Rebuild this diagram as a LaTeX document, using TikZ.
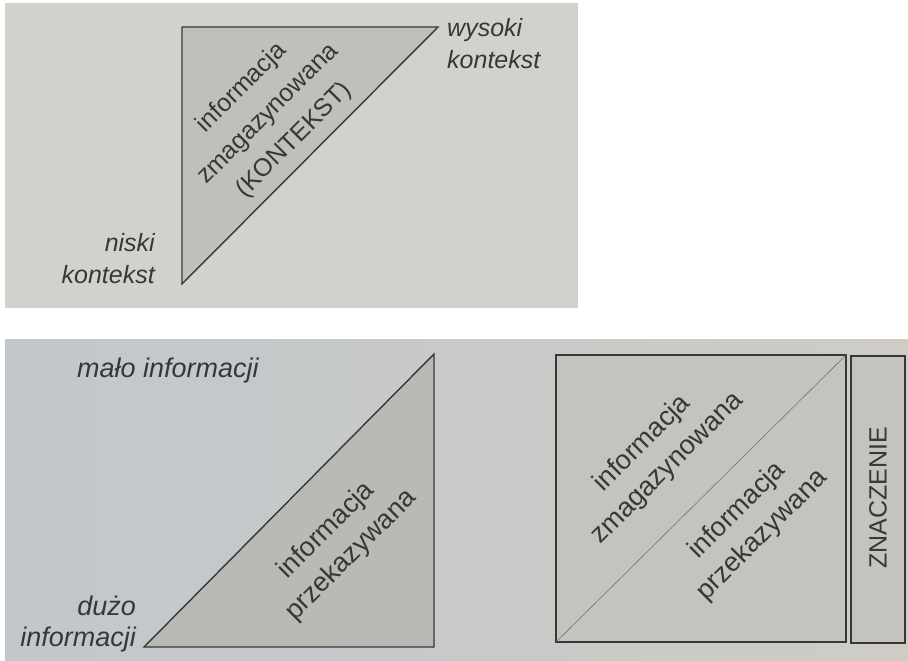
\documentclass[tikz,border=0pt]{standalone}
\usepackage{fontspec}
\setmainfont{Liberation Sans}
\usetikzlibrary{positioning}
\definecolor{pagetop}{RGB}{210,210,205}
\definecolor{pageleft}{RGB}{194,199,204}
\definecolor{pageright}{RGB}{206,204,197}
\definecolor{shade}{RGB}{192,191,185}
\definecolor{shadeb}{RGB}{185,185,181}
\definecolor{boxfill}{RGB}{197,195,189}
\definecolor{ink}{RGB}{55,55,55}
\tikzstyle{wedge} = [draw=ink, line width=1.4pt, line join=miter]
\tikzstyle{lbl} = [text=ink, font=\fontsize{25}{32}\selectfont\itshape, inner sep=0pt]
\tikzstyle{lblb} = [text=ink, font=\fontsize{27}{31}\selectfont\itshape, inner sep=0pt]
\tikzstyle{rot} = [text=ink, font=\fontsize{25}{37}\selectfont, align=center, rotate=45, inner sep=0pt]
\tikzstyle{rotb} = [text=ink, font=\fontsize{27}{35}\selectfont, align=center, rotate=45, inner sep=0pt]

\begin{document}
\begin{tikzpicture}[x=1pt,y=-1pt]
  \useasboundingbox (0,0) rectangle (908,661);
  % pages
  \fill[pagetop] (5,3) rectangle (578,308);
  \shade[left color=pageleft, right color=pageright] (5,339) rectangle (908,661);
  % upper triangle
  \coordinate (tl) at (182,27);
  \coordinate (tr) at (438,27);
  \coordinate (bl) at (182,284);
  \draw[wedge, fill=shade] (tl) -- (tr) -- (bl) -- cycle;
  \node[rot] (stored) at (268,114) {informacja\\zmagazynowana\\(KONTEKST)};
  \node[lbl, align=left, anchor=west] (high) at (447,44) {wysoki\\kontekst};
  \node[lbl, align=right, anchor=east] (low) at (155,259) {niski\\kontekst};
  % lower triangle
  \coordinate (lo) at (144,647);
  \coordinate (ro) at (434,647);
  \coordinate (ru) at (434,354);
  \draw[wedge, fill=shadeb] (lo) -- (ro) -- (ru) -- cycle;
  \node[rotb] (sent) at (339,543) {informacja\\przekazywana};
  \node[lblb, anchor=west] (little) at (77,371) {mało informacji};
  \node[lblb, align=right, anchor=east] (much) at (136,624) {dużo\\informacji};
  % square and meaning
  \coordinate (sq1) at (556,642);
  \coordinate (sq2) at (846,355);
  \draw[wedge, fill=boxfill] (sq1) rectangle (sq2);
  \draw[ink!70, line width=0.6pt] (sq1) -- (sq2);
  \node[rotb] (stored2) at (655,456) {informacja\\zmagazynowana};
  \node[rotb] (sent2) at (750,523) {informacja\\przekazywana};
  \draw[wedge, fill=boxfill] (851,356) rectangle (905,643);
  \node[text=ink, font=\fontsize{25}{30}\selectfont, rotate=90, inner sep=0pt] (meaning) at (878,498) {ZNACZENIE};
\end{tikzpicture}
\end{document}
